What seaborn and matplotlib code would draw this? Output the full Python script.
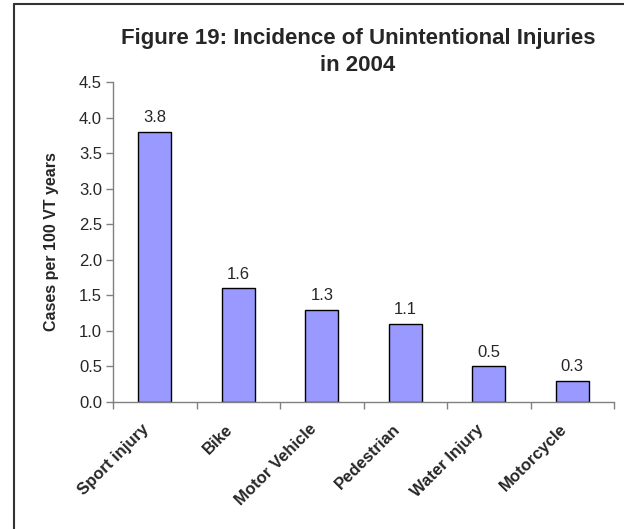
import matplotlib
matplotlib.use("Agg")
import matplotlib.pyplot as plt
import matplotlib.transforms as mtransforms
import seaborn as sns
import pandas as pd
from matplotlib.lines import Line2D

categories = ["Sport injury", "Bike", "Motor Vehicle", "Pedestrian", "Water Injury", "Motorcycle"]
values = [3.8, 1.6, 1.3, 1.1, 0.5, 0.3]
value_labels = ["3.8", "1.6", "1.3", "1.1", "0.5", "0.3"]
yticks = [0.0, 0.5, 1.0, 1.5, 2.0, 2.5, 3.0, 3.5, 4.0, 4.5]
title = "Figure 19: Incidence of Unintentional Injuries\nin 2004"
ylabel = "Cases per 100 VT years"

sns.set_style("white")
plt.rcParams['font.family'] = ['Liberation Sans', 'DejaVu Sans']

W, H = 624, 529
fig = plt.figure(figsize=(W / 100, H / 100), dpi=100)
left, right, top, bottom = 113, 614, 82, 402
ax = fig.add_axes([left / W, 1 - bottom / H, (right - left) / W, (bottom - top) / H])

df = pd.DataFrame({"cat": categories, "val": values})
sns.barplot(data=df, x="cat", y="val", ax=ax, color="#9999FF", saturation=1,
            width=0.4, edgecolor="black", linewidth=1)

ax.set_xlim(-0.5, len(categories) - 0.5)
ax.set_ylim(0, 4.5)
ax.set_yticks(yticks)
ax.set_yticklabels([f"{t:.1f}" for t in yticks], fontsize=12)

# category ticks at boundaries
ax.set_xticks([i - 0.5 for i in range(len(categories) + 1)], minor=False)
ax.set_xticklabels([])
ax.set_xticks(range(len(categories)), minor=True)
ax.set_xticklabels(categories, minor=True, rotation=45, ha="right",
                   rotation_mode="anchor", fontsize=12, fontweight="bold")
ax.tick_params(axis="x", which="minor", length=0, pad=14)
ax.tick_params(axis="x", which="major", length=5, width=1, color="#808080", direction="out")
ax.tick_params(axis="y", length=5, width=1, color="#808080", direction="out", pad=3)
ax.tick_params(axis="both", which="both", bottom=True, left=True)

shift = mtransforms.ScaledTranslation(-13 / 100, 0, fig.dpi_scale_trans)
for lab in ax.get_xticklabels(minor=True):
    lab.set_transform(lab.get_transform() + shift)

for s in ["top", "right"]:
    ax.spines[s].set_visible(False)
for s in ["left", "bottom"]:
    ax.spines[s].set_color("#808080")
    ax.spines[s].set_linewidth(1)

for i, (v, lab) in enumerate(zip(values, value_labels)):
    ax.text(i, v + 0.09, lab, ha="center", va="bottom", fontsize=12)

ax.set_xlabel("")
ax.set_ylabel(ylabel, fontsize=11.5, fontweight="bold", labelpad=14)

fig.text(358 / W, 1 - 52 / H, title, ha="center", va="center", fontsize=16,
         fontweight="bold", linespacing=1.4)

# chart-area border (top and left visible, the rest cut off)
fig.add_artist(Line2D([14 / W, 14 / W], [0, 1 - 4 / H], transform=fig.transFigure,
                      color="#333333", linewidth=1.5))
fig.add_artist(Line2D([14 / W, 1], [1 - 4 / H, 1 - 4 / H], transform=fig.transFigure,
                      color="#333333", linewidth=1.5))

fig.savefig("out.png", dpi=100)
